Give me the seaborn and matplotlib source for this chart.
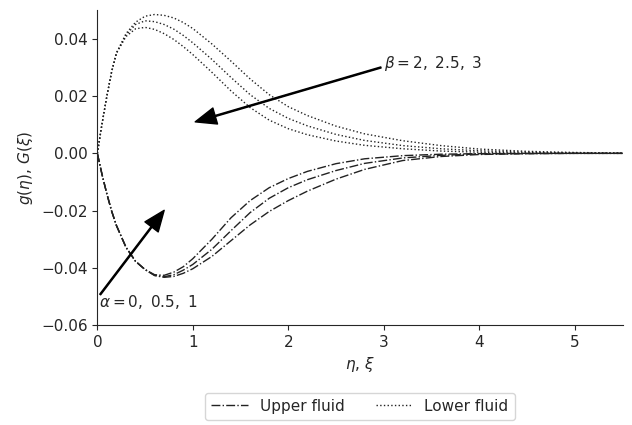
import numpy as np
import pandas as pd
import matplotlib
matplotlib.use("Agg")
import matplotlib.pyplot as plt
import seaborn as sns

# ---- data ----
eta = [0, 0.05, 0.1, 0.15, 0.2, 0.3, 0.4, 0.5, 0.6, 0.7, 0.8, 0.9, 1.0, 1.2,
       1.4, 1.6, 1.8, 2.0, 2.2, 2.5, 2.8, 3.2, 3.6, 4.0, 4.5, 5.0, 5.5]

# Lower fluid (dotted), beta = 2, 2.5, 3
lower_b2 = [0, 0.0105, 0.0200, 0.0285, 0.0350, 0.0418, 0.0458, 0.0479, 0.0485,
            0.0482, 0.0473, 0.0457, 0.0436, 0.0382, 0.0322, 0.0260, 0.0205,
            0.0163, 0.0132, 0.0095, 0.0068, 0.0044, 0.0027, 0.0015, 0.0007,
            0.0003, 0.0001]
lower_b25 = [0, 0.0105, 0.0200, 0.0285, 0.0350, 0.0413, 0.0450, 0.0463, 0.0460,
             0.0450, 0.0434, 0.0412, 0.0386, 0.0328, 0.0265, 0.0205, 0.0157,
             0.0122, 0.0096, 0.0066, 0.0045, 0.0027, 0.0016, 0.0009, 0.0004,
             0.0001, 0.0]
lower_b3 = [0, 0.0105, 0.0200, 0.0285, 0.0350, 0.0408, 0.0435, 0.0440, 0.0433,
            0.0418, 0.0398, 0.0373, 0.0345, 0.0283, 0.0218, 0.0160, 0.0116,
            0.0086, 0.0065, 0.0043, 0.0028, 0.0016, 0.0008, 0.0004, 0.0001,
            0.0, 0.0]

# Upper fluid (dash-dot), alpha = 0, 0.5, 1
upper_a0 = [0, -0.0075, -0.0142, -0.0202, -0.0252, -0.0328, -0.0377, -0.0406,
            -0.0424, -0.0426, -0.0415, -0.0396, -0.0368, -0.0300, -0.0225,
            -0.0165, -0.0120, -0.0088, -0.0063, -0.0036, -0.0019, -0.0008,
            -0.0003, -0.0001, 0.0, 0.0, 0.0]
upper_a05 = [0, -0.0075, -0.0142, -0.0202, -0.0252, -0.0328, -0.0377, -0.0406,
             -0.0426, -0.0431, -0.0424, -0.0408, -0.0388, -0.0335, -0.0270,
             -0.0207, -0.0157, -0.0120, -0.0092, -0.0060, -0.0035, -0.0016,
             -0.0007, -0.0002, -0.0001, 0.0, 0.0]
upper_a1 = [0, -0.0075, -0.0142, -0.0202, -0.0252, -0.0328, -0.0377, -0.0406,
            -0.0427, -0.0433, -0.0430, -0.0419, -0.0403, -0.0360, -0.0305,
            -0.0250, -0.0203, -0.0165, -0.0132, -0.0090, -0.0056, -0.0025,
            -0.0011, -0.0004, -0.0001, 0.0, 0.0]

legend_labels = ["Upper fluid", "Lower fluid"]
beta_text = r"$\beta = 2,\ 2.5,\ 3$"
alpha_text = r"$\alpha = 0,\ 0.5,\ 1$"

# ---- plotting ----
sns.set_style("ticks")
plt.rcParams["font.family"] = ["DejaVu Sans"]
plt.rcParams["font.size"] = 11
plt.rcParams["mathtext.fontset"] = "dejavusans"

fig = plt.figure(figsize=(6.32, 4.25), dpi=100)
ax = fig.add_axes([0.154, 0.235, 0.831, 0.741])

upper = [upper_a0, upper_a05, upper_a1]
lower = [lower_b2, lower_b25, lower_b3]
for i, ys in enumerate(upper):
    sns.lineplot(x=eta, y=ys, ax=ax, color="#222222", linestyle="-.", lw=1.0,
                 label=legend_labels[0] if i == 0 else None)
for i, ys in enumerate(lower):
    sns.lineplot(x=eta, y=ys, ax=ax, color="#222222", linestyle=":", lw=1.0,
                 label=legend_labels[1] if i == 0 else None)

ax.set_xlim(0, 5.5)
ax.set_ylim(-0.06, 0.05)
ax.set_xticks([0, 1, 2, 3, 4, 5])
ax.set_yticks([-0.06, -0.04, -0.02, 0.0, 0.02, 0.04])
ax.set_xlabel(r"$\eta,\,\xi$", fontsize=11)
ax.set_ylabel(r"$g(\eta),\,G(\xi)$", fontsize=11)
ax.tick_params(labelsize=11)
sns.despine(ax=ax)

arrowprops = dict(facecolor="black", edgecolor="black", width=0.8,
                  headwidth=12, headlength=15, shrink=0.0)
ax.annotate("", xy=(1.025, 0.011), xytext=(2.97, 0.030), arrowprops=arrowprops)
ax.text(3.0, 0.0315, beta_text, ha="left", va="center", fontsize=11)
ax.annotate("", xy=(0.70, -0.0199), xytext=(0.03, -0.0493), arrowprops=arrowprops)
ax.text(0.02, -0.0519, alpha_text, ha="left", va="center", fontsize=11)

ax.legend(loc="upper center", bbox_to_anchor=(0.5, -0.19), ncol=2,
          frameon=True, fontsize=11, handlelength=2.4)

fig.savefig("out.png", dpi=100)
